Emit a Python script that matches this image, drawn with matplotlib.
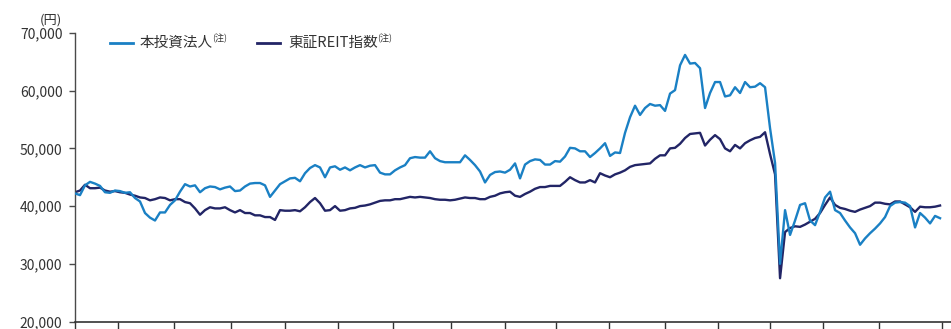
import matplotlib
matplotlib.use("Agg")
import matplotlib.pyplot as plt
from matplotlib.lines import Line2D
import pandas as pd
import numpy as np

plt.rcParams['font.family'] = ['Noto Sans CJK JP', 'DejaVu Sans']

# ---- data -------------------------------------------------------------
start_date = "2014-01-08"
step = "16D"

fund_label = "本投資法人"
reit_label = "東証REIT指数"
note_mark = "(注)"
unit_label = "(円)"

fund_values = [
    42200, 41900, 43600, 44200, 43900, 43500, 42400, 42300, 42700, 42600,
    42300, 42400, 41400, 40800, 38800, 38000, 37500, 38900, 38900, 40200,
    41000, 42500, 43800, 43400, 43600, 42400, 43100, 43400, 43300, 42900,
    43200, 43400, 42600, 42700, 43400, 43900, 44000, 44000, 43600, 41600,
    42700, 43800, 44300, 44800, 44900, 44300, 45700, 46600, 47100, 46700,
    45000, 46700, 46900, 46300, 46700, 46200, 46700, 47100, 46700, 47000,
    47100, 45800, 45500, 45500, 46200, 46700, 47100, 48300, 48500, 48400,
    48400, 49500, 48300, 47800, 47600, 47600, 47600, 47600, 48800, 48000,
    47100, 46000, 44100, 45400, 45900, 46000, 45800, 46300, 47400, 44800,
    47200, 47800, 48100, 48000, 47200, 47200, 47800, 47700, 48600, 50100,
    50000, 49500, 49500, 48500, 49200, 50000, 50900, 48700, 49300, 49200,
    52700, 55400, 57400, 55800, 57000, 57700, 57400, 57500, 56500, 59500,
    60100, 64400, 66200, 64700, 64800, 63900, 57000, 59600, 61500, 61500,
    59000, 59200, 60600, 59600, 61500, 60600, 60700, 61300, 60600, 53500,
    47500, 30000, 39300, 35000, 37500, 40200, 40500, 37500, 36700, 39000,
    41500, 42500, 39300, 38800, 37500, 36300, 35300, 33300, 34400, 35300,
    36100, 37000, 38100, 40000, 40600, 40700, 40600, 40000, 36300, 38800,
    38000, 37000, 38300, 37900,
]

reit_values = [
    42400, 42700, 43700, 43100, 43100, 43200, 42700, 42500, 42600, 42400,
    42300, 42000, 41800, 41500, 41400, 41000, 41200, 41500, 41400, 41000,
    41200, 41200, 40700, 40500, 39600, 38500, 39300, 39800, 39600, 39600,
    39800, 39300, 38900, 39300, 38800, 38800, 38400, 38400, 38100, 38100,
    37600, 39300, 39200, 39200, 39300, 39100, 39800, 40700, 41400, 40500,
    39200, 39300, 40000, 39200, 39300, 39600, 39700, 40000, 40100, 40300,
    40600, 40900, 41000, 41000, 41200, 41200, 41400, 41600, 41500, 41600,
    41500, 41400, 41200, 41100, 41100, 41000, 41100, 41300, 41500, 41400,
    41400, 41200, 41200, 41600, 41800, 42200, 42400, 42500, 41800, 41600,
    42100, 42500, 43000, 43300, 43300, 43500, 43500, 43500, 44200, 45000,
    44500, 44100, 44100, 44500, 44100, 45700, 45300, 45000, 45500, 45800,
    46200, 46800, 47100, 47200, 47300, 47400, 48200, 48800, 48800, 50000,
    50100, 50800, 51800, 52500, 52600, 52700, 50500, 51500, 52300, 51600,
    50000, 49500, 50600, 50000, 50900, 51400, 51800, 52000, 52800, 49000,
    45500, 27500, 35500, 36200, 36500, 36400, 36800, 37300, 37800, 38800,
    40200, 41500, 40200, 39700, 39500, 39200, 39000, 39400, 39700, 40000,
    40600, 40600, 40400, 40300, 40800, 40800, 40300, 39800, 39000, 39900,
    39800, 39800, 39900, 40100,
]

# x-axis tick dates (days after start), period boundaries
tick_offsets_days = [0, 138, 317, 499, 672, 842, 1018, 1203, 1376, 1539,
                     1709, 1888, 2058, 2224, 2394, 2573, 2774]
axis_end_days = 2803

y_ticks = [20000, 30000, 40000, 50000, 60000, 70000]

# ---- figure -----------------------------------------------------------
dates = pd.date_range(start=start_date, periods=len(fund_values), freq=step)
assert len(fund_values) == len(reit_values)

fund_color = "#1a80c4"
reit_color = "#222566"
axis_color = "#4a4a4a"
text_color = "#333333"

fig = plt.figure(figsize=(9.51, 3.29), dpi=100)
ax = fig.add_axes([75 / 951, 1 - 321.5 / 329, 1 - 75 / 951, (321.5 - 33) / 329])

ax.plot(dates, reit_values, color=reit_color, lw=1.7, solid_joinstyle="round", zorder=2)
ax.plot(dates, fund_values, color=fund_color, lw=1.7, solid_joinstyle="round", zorder=3)

t0 = pd.Timestamp(start_date)
ax.set_xlim(t0, t0 + pd.Timedelta(days=axis_end_days))
ax.set_ylim(20000, 70000)

ax.set_xticks(t0 + pd.to_timedelta(tick_offsets_days, unit="D"))
ax.set_xticklabels([])
ax.set_yticks(y_ticks)
ax.set_yticklabels([f"{v:,}" for v in y_ticks])

for s in ["top", "right"]:
    ax.spines[s].set_visible(False)
ax.spines["left"].set_color(axis_color)
ax.spines["bottom"].set_color("#333333")
ax.spines["left"].set_linewidth(1.0)
ax.spines["bottom"].set_linewidth(1.2)
ax.tick_params(axis="y", direction="out", length=4.5, width=1.0, color=axis_color,
               labelsize=10, labelcolor=text_color, pad=4.5)
ax.tick_params(axis="x", direction="out", length=5, width=1.0, color="#333333")
ax.spines["left"].set_bounds(20000, 70000)

fig.text(62 / 951, 1 - 20 / 329, unit_label, ha="right", va="center",
         fontsize=9.5, color=text_color)

# ---- legend (manual, with superscript note mark) ------------------------
fig.canvas.draw()
renderer = fig.canvas.get_renderer()
legend_y = 1 - 43 / 329
entries = [(fund_label, fund_color, 110, 140), (reit_label, reit_color, 257, 288)]
for label, color, lx, tx in entries:
    fig.add_artist(Line2D([lx / 951, (lx + 23) / 951], [legend_y, legend_y],
                          color=color, lw=2.0, transform=fig.transFigure))
    t = fig.text(tx / 951, legend_y, label, ha="left", va="center",
                 fontsize=10.5, color=text_color)
    bb = t.get_window_extent(renderer=renderer)
    fig.text((bb.x1 - 1) / 951, 1 - 38 / 329, note_mark, ha="left", va="center",
             fontsize=6.5, color=text_color)

fig.savefig("out.png", dpi=100)
